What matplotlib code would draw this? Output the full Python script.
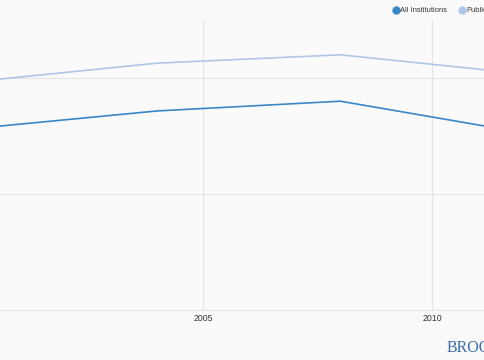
import matplotlib.pyplot as plt
from matplotlib.lines import Line2D

# datos (escala arbitraria, sin etiquetas en el eje y)
anios = [2000, 2004, 2008, 2012]
todas = [39.1, 42.9, 45.0, 38.2]      # All Institutions
publicas = [49.2, 53.2, 55.0, 50.9]   # Public
ticks_x = [2005, 2010]
ticks_y = [0, 25, 50]

azul = '#3a87c8'
azul_claro = '#aec7e8'
fondo = '#fafafa'
letra = ['Liberation Sans', 'DejaVu Sans']

fig = plt.figure(figsize=(4.85, 3.6), dpi=100, facecolor=fondo)
ax = fig.add_axes([0, 50 / 360, 1, 290 / 360], facecolor=fondo)

ax.plot(anios, publicas, color=azul_claro, lw=1.2)
ax.plot(anios, todas, color=azul, lw=1.2)

ax.set_xlim(2000.568, 2011.157)
ax.set_ylim(0, 62.5)
ax.set_xticks(ticks_x)
ax.set_xticklabels([str(t) for t in ticks_x], family=letra)
ax.set_yticks(ticks_y)
ax.set_yticklabels([])
ax.tick_params(axis='x', length=0, labelsize=6.3, labelcolor='#333333', pad=3)
ax.tick_params(axis='y', length=0)
ax.grid(True, color='#e4e4e4', lw=0.8)
ax.set_axisbelow(True)
for lado in ['top', 'left', 'right']:
    ax.spines[lado].set_visible(False)
ax.spines['bottom'].set_color('#e4e4e4')
ax.spines['bottom'].set_linewidth(0.8)

# leyenda arriba a la derecha (cortada por el borde)
fig.lines.append(Line2D([396 / 485], [1 - 10 / 360], transform=fig.transFigure,
                        marker='o', ms=5, color=azul, ls=''))
fig.text(400 / 485, 1 - 10 / 360, 'All Institutions', fontsize=5.4, family=letra,
         color='#333333', va='center', ha='left')
fig.lines.append(Line2D([462 / 485], [1 - 10 / 360], transform=fig.transFigure,
                        marker='o', ms=5, color=azul_claro, ls=''))
fig.text(466 / 485, 1 - 10 / 360, 'Public', fontsize=5.4, family=letra,
         color='#333333', va='center', ha='left')

# marca de agua
fig.text(447 / 485, 1 - 352 / 360, 'BROOKINGS', fontsize=11.5,
         family='Liberation Serif', color='#3d6fae', va='baseline', ha='left')

fig.savefig('out.png', dpi=100, facecolor=fondo)
